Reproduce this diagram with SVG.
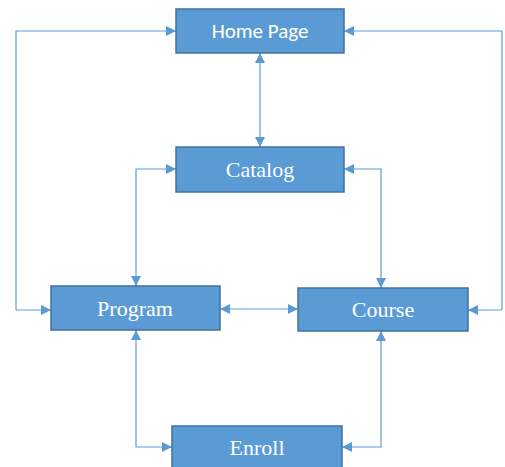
<svg xmlns="http://www.w3.org/2000/svg" width="505" height="467" viewBox="0 0 505 467">
<style>
.box{fill:#5B9BD5;stroke:#41719C;stroke-width:1.5}
.t{fill:#fff;text-anchor:middle;dominant-baseline:central}
.serif{font-family:"Liberation Serif","Times New Roman",serif;font-size:22px}
.sans{font-family:"Carlito","Liberation Sans",Arial,sans-serif;font-size:21px}
.c{fill:none;stroke:#5B9BD5;stroke-width:1.2;marker-end:url(#a);marker-start:url(#s)}
</style>
<defs>
<marker id="a" viewBox="0 0 10 10" refX="10" refY="5" markerWidth="10" markerHeight="10" markerUnits="userSpaceOnUse" orient="auto"><path d="M0,0L10,5L0,10z" fill="#5B9BD5"/></marker>
<marker id="s" viewBox="0 0 10 10" refX="0" refY="5" markerWidth="10" markerHeight="10" markerUnits="userSpaceOnUse" orient="auto"><path d="M10,0L0,5L10,10z" fill="#5B9BD5"/></marker>
</defs>
<rect width="505" height="467" fill="#fff"/>
<g id="connectors">
<path class="c" d="M16,310V31H176" style="marker-start:none"/>
<path class="c" d="M502,310V31H344" style="marker-start:none"/>
<path d="M16,310H51" fill="none" stroke="#5B9BD5" stroke-width="1.2" marker-end="url(#a)"/>
<path d="M502,310H468" fill="none" stroke="#5B9BD5" stroke-width="1.2" marker-end="url(#a)"/>
<path class="c" d="M260,53V147"/>
<path class="c" d="M176,169H136V286"/>
<path class="c" d="M344,169H381V288"/>
<path class="c" d="M220,309H298"/>
<path class="c" d="M136,330V447H172"/>
<path class="c" d="M381,331V447H342"/>
</g>
<g id="home"><rect class="box" x="176" y="9" width="168" height="44"/><text class="t sans" x="260" y="31">Home Page</text></g>
<g id="catalog"><rect class="box" x="176" y="147" width="168" height="45"/><text class="t serif" x="260" y="169">Catalog</text></g>
<g id="program"><rect class="box" x="51" y="286" width="169" height="44"/><text class="t serif" x="135" y="308">Program</text></g>
<g id="course"><rect class="box" x="298" y="288" width="170" height="43"/><text class="t serif" x="383" y="309">Course</text></g>
<g id="enroll"><rect class="box" x="172" y="426" width="170" height="44"/><text class="t serif" x="257" y="447">Enroll</text></g>
</svg>
